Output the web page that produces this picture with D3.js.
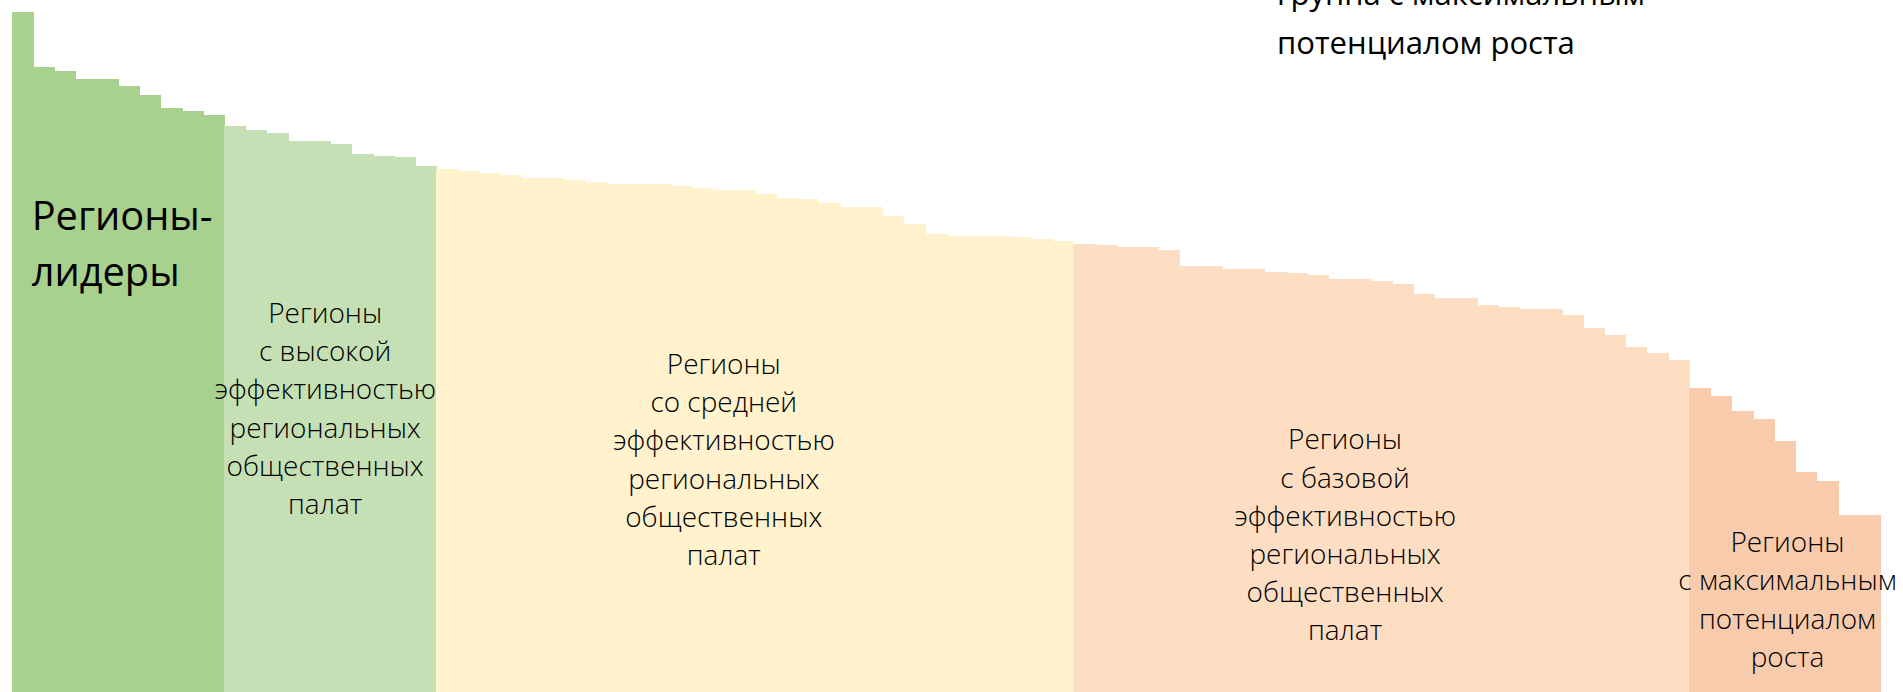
<!DOCTYPE html>
<meta charset="utf-8">
<style>
body{margin:0;background:#fff;overflow:hidden}
svg{display:block}
text{font-family:"Open Sans","Noto Sans",sans-serif;fill:#000}
</style>
<svg id="chart" width="1903" height="692"></svg>
<script src="https://d3js.org/d3.v7.min.js"></script>
<script>
// индекс эффективности региональных общественных палат, 88 регионов по убыванию
const scores = [
  100, 91.9, 91.4, 90.2, 90.2, 89.1, 87.9, 85.9, 85.5, 84.9,
  83.2, 82.7, 82.3, 81.0, 81.0, 80.6, 79.1, 78.9, 78.7, 77.4,
  77.0, 76.7, 76.3, 76.1, 75.6, 75.6, 75.3, 75.1, 74.8, 74.8,
  74.8, 74.4, 74.2, 73.9, 73.9, 73.3, 72.7, 72.5, 72.0, 71.4,
  71.4, 70.1, 68.8, 67.4, 67.1, 67.1, 67.1, 66.9, 66.7, 66.3,
  65.9, 65.7, 65.5, 65.5, 65.0, 62.7, 62.7, 62.2, 62.2, 61.8,
  61.6, 61.4, 60.7, 60.7, 60.5, 60.1, 58.6, 58.0, 58.0, 56.9,
  56.7, 56.3, 56.3, 55.4, 53.5, 52.5, 50.7, 49.9, 48.9,
  44.7, 43.5, 41.4, 40.1, 37.0, 32.4, 31.0, 26.1, 26.1
]
// сколько регионов в каждой группе (по порядку)
const groupSizes = [10, 10, 30, 29, 9]
const groupColors = ['#a9d18e', '#c5e0b4', '#fff2cc', '#fedec3', '#f8cbad']
const groupLabels = [
  ['Регионы-', 'лидеры'],
  ['Регионы', 'с высокой', 'эффективностью', 'региональных', 'общественных', 'палат'],
  ['Регионы', 'со средней', 'эффективностью', 'региональных', 'общественных', 'палат'],
  ['Регионы', 'с базовой', 'эффективностью', 'региональных', 'общественных', 'палат'],
  ['Регионы', 'с максимальным', 'потенциалом', 'роста']
]
const topNote = ['группа с максимальным', 'потенциалом роста']

const W = 1903, H = 692
const svg = d3.select('#chart')

// группа для каждого региона
const groupOf = []
groupSizes.forEach((n, g) => { for (let i = 0; i < n; i++) groupOf.push(g) })
const data = scores.map((v, i) => ({i, v, g: groupOf[i]}))

const x = d3.scaleBand()
  .domain(d3.range(scores.length))
  .range([11.7, 1880])
  .padding(0)

const y = d3.scaleLinear()
  .domain([0, 100])
  .range([H, 12.3])

svg.append('g')
  .attr('shape-rendering', 'crispEdges')
  .selectAll('rect')
  .data(data)
  .join('rect')
  .attr('x', d => x(d.i))
  .attr('width', x.bandwidth() + 1)
  .attr('y', d => y(d.v))
  .attr('height', d => H - y(d.v))
  .attr('fill', d => groupColors[d.g])

// границы групп
let start = 0
const spans = groupSizes.map(n => {
  const s = {x0: x(start), x1: x(start + n - 1) + x.bandwidth()}
  start += n
  return s
})

// подбор размера шрифта по ширине эталонной строки
function fitSize(str, weight, target) {
  const t = svg.append('text').style('font-weight', weight).style('font-size', '100px').text(str)
  const w = t.node().getComputedTextLength()
  t.remove()
  return 100 * target / w
}
const smallSize = fitSize('эффективностью', 300, 222)
const bigSize = fitSize('Регионы-', 400, 181)
const noteSize = fitSize('потенциалом роста', 400, 298)

// подписи групп: [dx от центра группы, baseline первой строки, шаг]
const labelPos = [
  null,
  [-5, 322.7, 38.3],
  [-31, 373.7, 38.3],
  [-36, 449.3, 38.2],
  [3, 552, 38.4]
]

const labels = svg.append('g')
// лидеры — по левому краю
labels.append('text')
  .attr('x', spans[0].x0 + 20)
  .attr('y', 230)
  .style('font-size', bigSize + 'px')
  .selectAll('tspan')
  .data(groupLabels[0])
  .join('tspan')
  .attr('x', spans[0].x0 + 20)
  .attr('dy', (d, i) => i ? 56 : 0)
  .text(d => d)

labelPos.forEach((p, g) => {
  if (!p) return
  const cx = (spans[g].x0 + spans[g].x1) / 2 + p[0]
  labels.append('text')
    .attr('text-anchor', 'middle')
    .style('font-size', smallSize + 'px')
    .style('font-weight', 300)
    .selectAll('tspan')
    .data(groupLabels[g])
    .join('tspan')
    .attr('x', cx)
    .attr('y', (d, i) => p[1] + i * p[2])
    .text(d => d)
})

// надпись сверху справа (частично обрезана краем, как в оригинале)
labels.append('text')
  .style('font-size', noteSize + 'px')
  .selectAll('tspan')
  .data(topNote)
  .join('tspan')
  .attr('x', 1277)
  .attr('y', (d, i) => 5 + i * 48.5)
  .text(d => d)
</script>
